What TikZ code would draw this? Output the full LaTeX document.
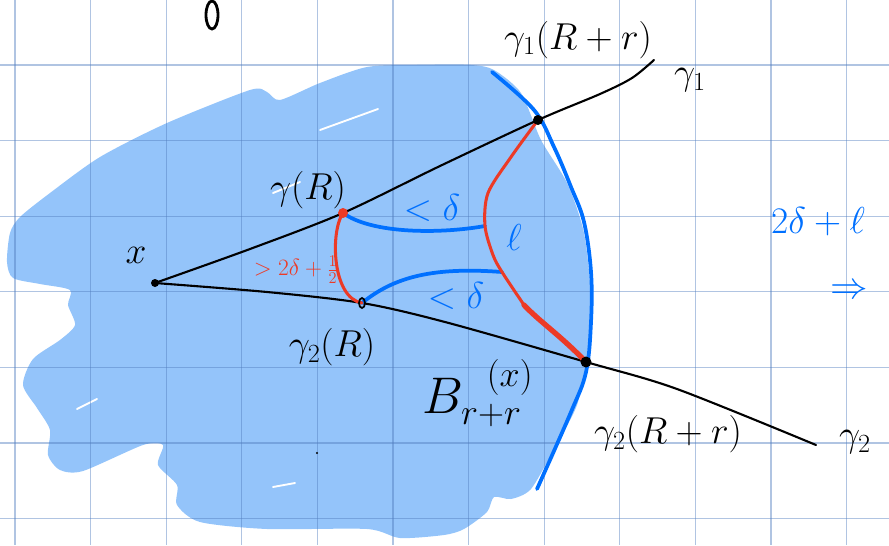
\documentclass[tikz,border=0pt]{standalone}
\usepackage{fix-cm}
\usepackage{amsmath,amssymb}
\usepackage{tikz}
\usetikzlibrary{calc}
\definecolor{gridline}{RGB}{80,125,190}
\definecolor{blobblue}{RGB}{148,196,250}
\definecolor{penblue}{RGB}{0,112,255}
\definecolor{penred}{RGB}{236,58,38}
\tikzset{curve/.style={line width=1.8pt,line cap=round,line join=round},
  bluepen/.style={curve,penblue,line width=3.2pt},
  redpen/.style={curve,penred,line width=2.6pt},
  lab/.style={font=\fontsize{32}{34}\selectfont,inner sep=0pt},
  bluelab/.style={lab,text=penblue},
  redlab/.style={font=\fontsize{20}{22}\selectfont,inner sep=0pt,text=penred}}

\begin{document}
\begin{tikzpicture}[x=0.3mm,y=-0.3mm]
\useasboundingbox (0,0) rectangle (889,545);
\clip (0,0) rectangle (889,545);
% the ball
\fill[blobblue] plot[smooth cycle,tension=0.45] coordinates {(7,262) (10,233) (20,217) (50,193) (100,157)
  (167,123) (250,90) (267,92) (280,100) (320,83) (367,67) (417,65) (471,65) (494,70) (521,93)
  (541,140) (567,183) (584,233) (591,300) (587,355) (577,405) (554,449) (531,489) (511,499)
  (494,497) (487,512) (464,529) (444,535) (400,538) (367,529) (267,529) (200,522) (177,505)
  (177,485) (158,465) (163,445) (143,445) (83,471) (60,470) (48,455) (50,430) (37,408)
  (23,385) (33,359) (60,340) (75,325) (68,305) (70,290) (40,284) (13,278)};
\foreach \a/\b in {{(320,130)}/{(378,109)},{(273,193)}/{(300,182)},{(97,399)}/{(77,409)},{(273,487)}/{(295,483)}}
  \draw[white,line width=1.6pt,line cap=round] \a -- \b;
% paper grid
\foreach \i in {0,...,11} \draw[gridline,opacity=0.45,line width=1pt] (15+75.6*\i,0) -- ++(0,545);
\foreach \i in {0,...,6} \draw[gridline,opacity=0.45,line width=1pt] (0,65+75.6*\i) -- ++(889,0);

% points
\coordinate (x) at (155,283);
\coordinate (gR) at (343,213);
\coordinate (g2R) at (362,303);
\coordinate (g1Rr) at (538,120);
\coordinate (g2Rr) at (586,362);
\coordinate (g1end) at (654,60);
\coordinate (g2end) at (816,445);
\coordinate (lA) at (485,226);
\coordinate (lB) at (502,272);
\coordinate (arcA) at (492,72);
\coordinate (arcB) at (537,489);

% boundary of the ball
\draw[bluepen] plot[smooth,tension=0.6] coordinates {(arcA) (534,110) (554,147) (571,187) (584,222)
  (591,272) (591,322) (586,372) (571,412) (arcB)};

% geodesics
\draw[curve] plot[smooth] coordinates {(x) (250,249) (gR) (440,166) (g1Rr) (600,94) (632,78) (g1end)};
\draw[curve] plot[smooth] coordinates {(x) (267,292) (g2R) (445,322) (g2Rr) (677,389) (g2end)};

% short paths
\draw[bluepen] (gR) .. controls (372,234) and (440,234) .. (lA);
\draw[bluepen] (g2R) .. controls (395,276) and (435,267) .. (lB);
\draw[redpen] (gR) .. controls (330,232) and (332,298) .. (g2R);
\draw[redpen] plot[smooth] coordinates {(g1Rr) (511,157) (488,193) (lA) (493,255) (lB) (524,305)};
\draw[redpen,line width=4.5pt] (524,305) .. controls (540,322) and (560,335) .. (g2Rr);

% dots
\fill (x) circle (4);
\fill[penred] (gR) circle (5);
\fill (g1Rr) circle (5);
\fill (g2Rr) circle (5.5);
\draw[line width=1.5pt] (g2R) ellipse (3 and 5);
\fill (317,453) circle (1.2);
\draw[line width=2.4pt] (212,15) ellipse (6 and 14);

% labels
\node[lab] (lx) at (136,255) {$x$};
\node[lab] (lgR) at (308,190) {$\gamma(R)$};
\node[lab] (lg2R) at (332,347) {$\gamma_2(R)$};
\node[lab] (lg1Rr) at (578,40) {$\gamma_1(R+r)$};
\node[lab] (lg1) at (690,80) {$\gamma_1$};
\node[lab] (lg2Rr) at (668,434) {$\gamma_2(R+r)$};
\node[lab] (lg2) at (855,442) {$\gamma_2$};
\node[lab,font=\fontsize{44}{46}\selectfont] (lball) at (478,393) {$B^{\hspace{0.45em}(x)}_{r+r}$};
\node[bluelab] (ld1) at (432,208) {$<\delta$};
\node[bluelab] (ld2) at (456,296) {$<\delta$};
\node[bluelab] (lell) at (514,237) {$\ell$};
\node[redlab] (lineq) at (296,270) {$>2\delta+\frac{1}{2}$};
\node[bluelab] (lsum) at (818,222) {$2\delta+\ell$};
\node[bluelab] (limp) at (849,292) {$\Rightarrow$};
\end{tikzpicture}
\end{document}
